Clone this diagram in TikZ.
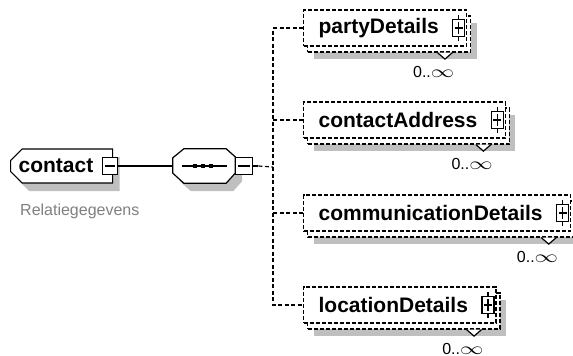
\documentclass[tikz,border=0pt]{standalone}
\usepackage{fontspec}
\setmainfont{Liberation Sans}
\usetikzlibrary{positioning,shapes.misc,shadows}
\tikzstyle{greyshade}=[drop shadow={shadow xshift=7pt, shadow yshift=-8pt, fill=black!25, opacity=1}]
\tikzstyle{globalbox}=[chamfered rectangle, chamfered rectangle corners={north west, south west}, chamfered rectangle xsep=8pt, draw=black, fill=white, line width=1.2pt, greyshade, font=\fontsize{21}{24}\selectfont\bfseries, inner xsep=0pt, minimum height=34pt, text width=86pt, align=left]
\tikzstyle{seqshape}=[draw=black, fill=white, line width=1.2pt, greyshade]
\tikzstyle{elem}=[rectangle, draw=black, fill=white, line width=1.2pt, dash pattern=on 4pt off 2pt, anchor=west, font=\fontsize{21}{24}\selectfont\bfseries, inner xsep=0pt, minimum height=36pt, drop shadow={shadow xshift=10pt, shadow yshift=-13pt, fill=black!25, opacity=1}, copy shadow={shadow xshift=4pt, shadow yshift=-6pt, draw=black, fill=white, dash pattern=on 4pt off 2pt}, execute at begin node=\hspace*{15pt}, execute at end node=\hspace*{28pt}]
\tikzstyle{pmbox}=[rectangle, draw=black, fill=white, solid, line width=1.2pt, inner sep=0pt, minimum width=12pt, minimum height=17pt]
\tikzstyle{minusbox}=[pmbox, minimum width=15pt, path picture={\draw[line width=1.2pt] ([xshift=2.5pt]path picture bounding box.west) -- ([xshift=-2.5pt]path picture bounding box.east);}]
\tikzstyle{plusbox}=[pmbox, path picture={\draw[line width=1.2pt] ([xshift=2pt]path picture bounding box.west) -- ([xshift=-2pt]path picture bounding box.east) ([yshift=-2.5pt]path picture bounding box.north) -- ([yshift=2.5pt]path picture bounding box.south);}]

\begin{document}
\begin{tikzpicture}[
        x=1pt, y=-1pt,
        link/.style={line width=1.2pt},
        dlink/.style={line width=1.2pt, dash pattern=on 4pt off 2.5pt},
        occurs/.style={font=\fontsize{16}{18}\selectfont, inner sep=0pt, anchor=east},
      ]
      \useasboundingbox (0,0) rectangle (573,356);
      % global element and its sequence
      \node (contact) [globalbox, anchor=west] at (10,166) {contact};
      \node (contactmin) [minusbox] at ([xshift=-3pt]contact.east) {};
      \node (contactdoc) [font=\fontsize{16}{19}\selectfont, text=black!50, anchor=west, inner sep=0pt] at (20,211) {Relatiegegevens};
      \node (seq) [minimum width=62pt, minimum height=34pt, inner sep=0pt] at (204,166) {};
      \draw [seqshape] ([xshift=11pt]seq.north west) -- ([xshift=-9pt]seq.north east) -- ([yshift=-8pt]seq.north east)
        -- ([yshift=10pt]seq.south east) -- ([xshift=-9pt]seq.south east) -- ([xshift=11pt]seq.south west)
        -- ([yshift=10pt]seq.south west) -- ([yshift=-9pt]seq.north west) -- cycle;
      \node (seqmin) [minusbox, minimum width=17pt, right=0pt of seq] {};
      \draw [link] ([xshift=9pt]seq.west) -- ([xshift=-8pt]seq.east);
      \foreach \d in {-9,-1,7}
        \fill ([xshift=\d pt]seq.center) +(-2pt,-2pt) rectangle +(2pt,2pt);
      \coordinate (hub) at (273,167);
      % child elements
      \node (party) [elem] at (303,28) {partyDetails};
      \node (address) [elem] at (303,120) {contactAddress};
      \node (comm) [elem] at (303,213) {communicationDetails};
      \node (location) [elem] at (303,305) {locationDetails};
      \foreach \n in {party,address,comm,location}
        {
          \node (\n-plus) [plusbox, left=2pt of \n.east] {};
          \draw [link] (\n-plus.north) -- ++(0pt,4pt) (\n-plus.south) -- ++(0pt,-4pt);
          \filldraw [link, fill=white] ([shift={(-30,6)}]\n.south east) -- ++(7.5,6.5) -- ++(7.5,-6.5);
          \node (\n-occ) [occurs] at ([shift={(-13,25)}]\n.south east) {0..\scalebox{1.35}[1]{$\infty$}};
        }
      \draw [link] (contactmin) -- (seq);
      \draw [link] (seqmin.east) -- ++(5pt,0pt) coordinate (seqout);
      \draw [dlink] (seqout) -- (hub);
      \draw [dlink] (party.west) -| (hub) |- (location.west);
      \draw [dlink] (address.west) -- (address.west -| hub);
      \draw [dlink] (comm.west) -- (comm.west -| hub);
    \end{tikzpicture}
\end{document}
